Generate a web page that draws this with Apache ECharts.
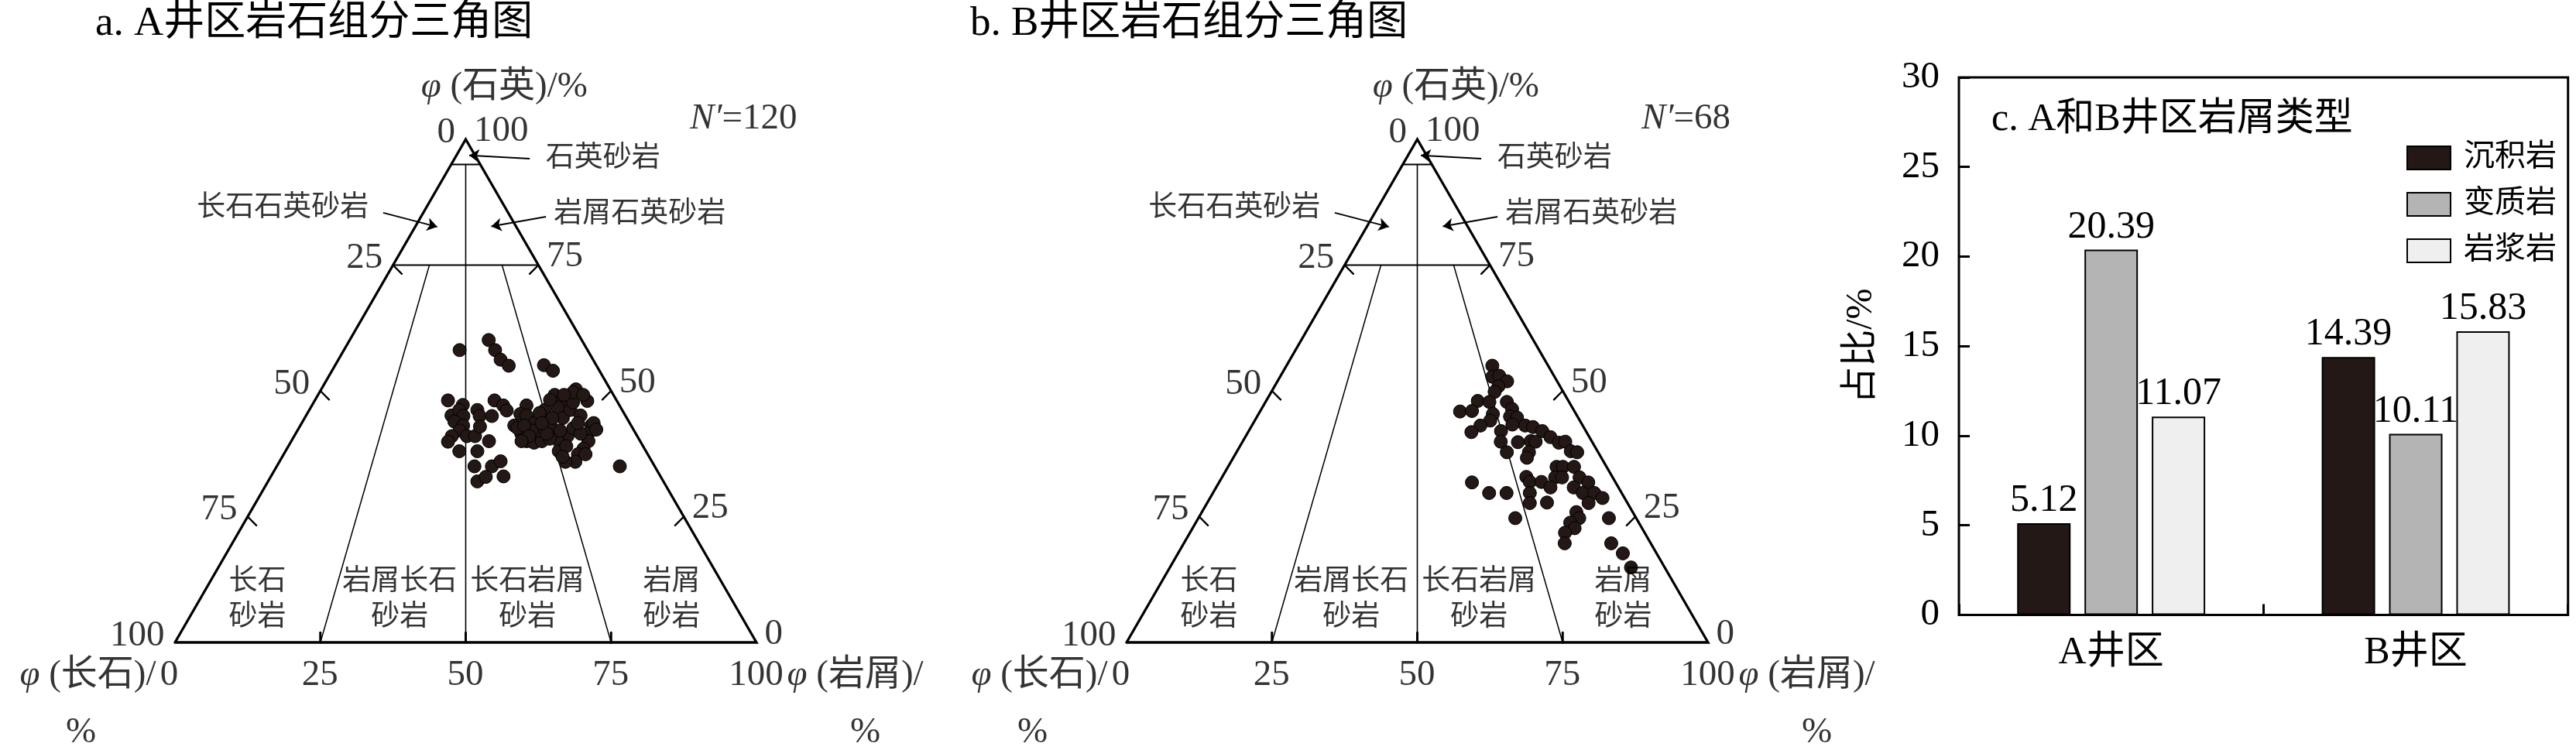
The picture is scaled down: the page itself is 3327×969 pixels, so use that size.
<!DOCTYPE html>
<html><head><meta charset="utf-8">
<script src="https://cdn.jsdelivr.net/npm/echarts@6/dist/echarts.min.js"></script>
<style>html,body{margin:0;padding:0;background:#fff}#c{width:3327px;height:969px}</style>
</head><body><div id="c"></div>
<script>
// ---------- data: well area A (percent) ----------
const quartzA   = [58.1,60.1,58.1,56.2,55.0,55.1,54.0,48.1,47.2,45.1,46.2,45.0,43.9,43.1,42.1,41.0,39.9,41.0,41.0,46.2,45.0,42.9,45.0,48.1,47.1,46.1,40.0,38.0,38.0,35.0,35.0,36.0,32.0,32.9,33.0,47.1,43.1,45.4,45.1,41.5,40.0,39.7,40.0,42.1,43.6,46.2,44.1,42.6,49.2,48.2,46.7,44.6,46.2,50.3,48.0,47.7,45.1,43.1,41.5,40.0,38.5,37.4,35.9,35.9,38.0,41.0,40.5,40.5,42.1,48.2,42.6,41.5,39.0,45.6,44.6,42.6,43.1,49.7,43.6,37.4,36.9,43.6,42.1,41.5,43.6,41.0,40.0,49.2,49.2,42.3,35.0];
const feldsparA = [22.0,16.0,15.9,15.9,15.1,9.0,8.0,29.0,26.9,29.9,28.0,27.9,30.0,28.9,30.0,31.9,33.1,29.3,27.9,24.9,25.1,26.1,23.0,21.0,20.0,19.9,26.0,32.1,29.0,31.0,28.0,26.0,32.0,30.1,27.0,16.0,20.1,17.9,17.0,19.7,19.5,18.4,16.9,16.3,16.4,13.3,13.9,13.8,10.1,9.2,10.8,11.0,8.9,5.9,5.1,7.7,7.7,6.9,8.2,8.9,10.5,12.0,13.2,14.9,15.0,12.0,14.0,15.3,17.6,11.4,10.2,9.5,13.2,14.5,12.8,19.8,18.4,6.7,6.2,10.7,14.9,8.9,12.7,15.3,15.1,18.6,20.4,8.5,5.2,6.4,6.0];
const lithicA   = [19.9,23.9,26.0,27.9,29.9,35.9,38.0,22.9,25.9,25.0,25.8,27.1,26.1,28.0,27.9,27.1,27.0,29.7,31.1,28.9,29.9,31.0,32.0,30.9,32.9,34.0,34.0,29.9,33.0,34.0,37.0,38.0,36.0,37.0,40.0,36.9,36.8,36.7,37.9,38.8,40.5,41.9,43.1,41.6,40.0,40.5,42.0,43.6,40.7,42.6,42.5,44.4,44.9,43.8,46.9,44.6,47.2,50.0,50.3,51.1,51.0,50.6,50.9,49.2,47.0,47.0,45.5,44.2,40.3,40.4,47.2,49.0,47.8,39.9,42.6,37.6,38.5,43.6,50.2,51.9,48.2,47.5,45.2,43.2,41.3,40.4,39.6,42.3,45.6,51.3,59.0];
// ---------- data: well area B (percent) ----------
const quartzB   = [55.0,52.8,53.0,51.9,50.9,49.8,48.0,47.8,45.9,46.0,45.4,44.1,43.1,41.8,47.8,46.4,44.9,44.7,43.3,43.1,42.8,42.0,40.8,39.7,39.9,38.0,37.8,42.0,39.9,37.8,39.8,40.0,39.9,37.8,36.7,34.9,34.9,34.9,32.8,32.8,32.8,31.8,32.9,31.9,31.9,30.8,30.8,29.7,29.7,28.7,27.7,29.7,27.7,27.8,31.8,29.7,29.7,24.7,25.9,24.7,23.8,22.7,21.8,19.7,24.7,19.7,17.7,14.9];
const feldsparB = [9.6,10.7,9.4,8.6,10.6,11.8,15.6,13.7,19.7,17.6,14.3,15.4,17.6,19.8,10.7,10.5,11.6,10.5,12.0,9.9,8.7,7.5,6.7,5.8,4.6,4.6,3.6,14.6,15.7,15.7,12.8,10.5,9.7,11.9,12.8,8.6,7.5,5.6,9.9,8.7,5.7,4.7,14.8,14.7,12.7,11.7,7.7,6.7,4.7,3.8,6.7,15.8,16.8,13.8,24.7,22.8,19.8,20.8,9.7,9.8,11.8,11.6,13.7,14.8,4.7,6.8,5.8,5.8];
const lithicB   = [35.4,36.5,37.6,39.5,38.5,38.4,36.4,38.5,34.4,36.4,40.3,40.5,39.3,38.4,41.5,43.1,43.5,44.8,44.7,47.0,48.5,50.5,52.5,54.5,55.5,57.4,58.6,43.4,44.4,46.5,47.4,49.5,50.4,50.3,50.5,56.5,57.6,59.5,57.3,58.5,61.5,63.5,52.3,53.4,55.4,57.5,61.5,63.6,65.6,67.5,65.6,54.5,55.5,58.4,43.5,47.5,50.5,54.5,64.4,65.5,64.4,65.7,64.5,65.5,70.6,73.5,76.5,79.3];
const sampleCounts = [120, 68];
// ---------- ternary classification ----------
const ternaryTicks   = [0, 25, 50, 75, 100];
const sideTickValues = [25, 50, 75];
const quartzBounds   = [95, 75];          // quartz sandstone / quartz-rich boundaries
const lithicRatios   = [25, 50, 75];      // L/(F+L) boundaries
const regionNames    = ['长石\n砂岩', '岩屑长石\n砂岩', '长石岩屑\n砂岩', '岩屑\n砂岩'];
const subQuartzNames = ['石英砂岩', '长石石英砂岩', '岩屑石英砂岩'];
// ---------- bar chart data ----------
const areaCategories = ['A井区', 'B井区'];
const debrisTypes    = ['沉积岩', '变质岩', '岩浆岩'];
const sedimentary    = [5.12, 14.39];
const metamorphic    = [20.39, 10.11];
const igneous        = [11.07, 15.83];
const barYTicks      = [0, 5, 10, 15, 20, 25, 30];

// ---------- layout / style (not data) ----------
const FF = "'Liberation Serif','Noto Sans CJK SC',serif";
const panelTitles = ['a. A井区岩石组分三角图', 'b. B井区岩石组分三角图', 'c. A和B井区岩屑类型'];
const ternGrids = [{left:226, top:180, width:751, height:650}, {left:1455, top:180, width:751, height:650}];
// positions in ternary plot space [base position %, quartz %]
const LAYOUT = {
  quartzName: [56.7, 110.3], nLabel: [88.6, 104],
  sub: [[63.8, 96.0, 'left'], [33.4, 86.15, 'right'], [65.2, 84.9, 'left']],
  arrows: [[[61.0, 96.15], [50.6, 96.8]], [[35.8, 85.4], [45.1, 82.6]], [[63.8, 84.6], [54.4, 82.7]]],
  regions: [14.25, 38.7, 60.7, 85.5], regionQ: 8.3,
  pctLeft: [-16.1, -18], pctRight: [118.8, -18]
};

function tern(q, f, l) { const s = q + f + l; return [100 * (l + q / 2) / s, 100 * q / s]; }

function lab(pos, text, o) {
  return { value: pos, label: Object.assign({ show: true, position: [0, 0], formatter: text, color: '#000',
    fontFamily: FF, fontSize: 47, align: 'center', verticalAlign: 'middle',
    rich: { i: { fontStyle: 'italic', fontFamily: FF, fontSize: 47, color: '#000' } } }, o || {}) };
}

function ternarySeries(k, Q, F, L, n) {
  const S = [];
  const ax = { xAxisIndex: k, yAxisIndex: k };
  const seg = (pts, w, z) => S.push(Object.assign({ type: 'line', data: pts, symbol: 'none', clip: false, silent: true,
    lineStyle: { color: '#000', width: w, cap: 'round', join: 'miter' }, z: z || 2 }, ax));
  seg([tern(0, 100, 0), tern(0, 0, 100), tern(100, 0, 0), tern(0, 100, 0)], 3.3, 3);
  quartzBounds.forEach(q => seg([tern(q, 100 - q, 0), tern(q, 0, 100 - q)], 2));
  lithicRatios.forEach(r => {
    const qt = r === 50 ? quartzBounds[0] : quartzBounds[1];
    seg([tern(qt, (100 - qt) * (100 - r) / 100, (100 - qt) * r / 100), tern(0, 100 - r, r)], r === 50 ? 1.6 : 1.5);
  });
  sideTickValues.forEach(t => {
    const a = tern(100 - t, t, 0); seg([a, [a[0] + 1.5, a[1] - 1.74]], 2.4);
    const b = tern(t, 0, 100 - t); seg([b, [b[0] - 1.5, b[1] - 1.74]], 2.4);
    const c = tern(0, 100 - t, t); seg([c, [c[0], c[1] + 1.95]], 3);
  });
  S.push(Object.assign({ type: 'scatter', symbol: 'circle', symbolSize: 17, clip: false, z: 5,
    itemStyle: { color: '#231815', borderColor: '#000', borderWidth: 1, opacity: 1 },
    data: Q.map((q, i) => tern(q, F[i], L[i])) }, ax));
  S.push(Object.assign({ type: 'lines', coordinateSystem: 'cartesian2d', polyline: false, clip: false, silent: true, z: 4,
    symbol: ['none', 'arrow'], symbolSize: 13, lineStyle: { color: '#000', width: 2, opacity: 1 },
    data: LAYOUT.arrows.map(c => ({ coords: c })) }, ax));
  const T = [];
  ternaryTicks.forEach(t => {
    T.push(lab(tern(100 - t, t, 0), String(t), { align: 'right', offset: [-13, -8] }));
    T.push(lab(tern(t, 0, 100 - t), String(t), { align: 'left', offset: [11, -10] }));
    T.push(lab(tern(0, 100 - t, t), String(t), { align: 'center', offset: [t === 0 ? -7 : 0, 43] }));
  });
  T.push(lab(tern(0, 100, 0), '{i|φ} (长石)/', { align: 'right', offset: [-24, 43] }));
  T.push(lab(tern(0, 0, 100), '{i|φ} (岩屑)/', { align: 'left', offset: [40, 43] }));
  T.push(lab(LAYOUT.pctLeft, '%'));
  T.push(lab(LAYOUT.pctRight, '%'));
  T.push(lab(LAYOUT.quartzName, '{i|φ} (石英)/%'));
  T.push(lab(LAYOUT.nLabel, "{i|N′}=" + n, { align: 'left' }));
  subQuartzNames.forEach((s, i) => T.push(lab([LAYOUT.sub[i][0], LAYOUT.sub[i][1]], s, { align: LAYOUT.sub[i][2], fontSize: 37 })));
  regionNames.forEach((s, i) => T.push(lab([LAYOUT.regions[i], LAYOUT.regionQ], s, { fontSize: 37, lineHeight: 46 })));
  S.push(Object.assign({ type: 'scatter', symbol: 'circle', symbolSize: 1, clip: false, silent: true, z: 6,
    itemStyle: { color: 'rgba(0,0,0,0)' }, data: T }, ax));
  return S;
}

const chart = echarts.init(document.getElementById('c'), null, { renderer: 'canvas' });
const barColors = ['#231815', '#b4b4b4', '#eeefee'];
const barVals = [sedimentary, metamorphic, igneous];
const titleStyle = fs => ({ fontFamily: FF, fontSize: fs, fontWeight: 'normal', color: '#000' });

const option = {
  animation: false,
  backgroundColor: '#fff',
  title: [
    { text: panelTitles[0], left: 118, top: 0, textStyle: titleStyle(53) },
    { text: panelTitles[1], left: 1248, top: 0, textStyle: titleStyle(53) },
    { text: panelTitles[2], left: 2567, top: 125, textStyle: titleStyle(50) }
  ],
  grid: [
    Object.assign({ containLabel: false, outerBoundsMode: 'none' }, ternGrids[0]),
    Object.assign({ containLabel: false, outerBoundsMode: 'none' }, ternGrids[1]),
    { left: 2530, top: 100, width: 786.7, height: 694.4, containLabel: false, outerBoundsMode: 'none',
      show: true, borderColor: '#000', borderWidth: 3, backgroundColor: 'transparent' }
  ],
  xAxis: [
    { type: 'value', gridIndex: 0, min: 0, max: 100, show: false },
    { type: 'value', gridIndex: 1, min: 0, max: 100, show: false },
    { type: 'category', gridIndex: 2, data: areaCategories,
      axisLine: { show: false }, splitLine: { show: false },
      axisTick: { show: true, inside: true, length: 14, alignWithLabel: false, lineStyle: { color: '#000', width: 3 } },
      axisLabel: { fontFamily: FF, fontSize: 50, color: '#000', margin: 24 } }
  ],
  yAxis: [
    { type: 'value', gridIndex: 0, min: 0, max: 100, show: false },
    { type: 'value', gridIndex: 1, min: 0, max: 100, show: false },
    { type: 'value', gridIndex: 2, min: barYTicks[0], max: barYTicks[barYTicks.length - 1], interval: barYTicks[1] - barYTicks[0],
      axisLine: { show: false }, splitLine: { show: false },
      axisTick: { show: true, inside: true, length: 14, lineStyle: { color: '#000', width: 3 } },
      axisLabel: { fontFamily: FF, fontSize: 49, color: '#000', margin: 25 },
      name: '占比/%', nameLocation: 'middle', nameGap: 102, nameRotate: 90,
      nameTextStyle: { fontFamily: FF, fontSize: 48, color: '#000' } }
  ],
  legend: {
    data: debrisTypes, orient: 'vertical', left: 3103, top: 179, itemWidth: 56, itemHeight: 30, itemGap: 20,
    icon: 'rect', textStyle: { fontFamily: FF, fontSize: 40, color: '#000', padding: [0, 0, 0, 12] }
  },
  series: [
    ...ternarySeries(0, quartzA, feldsparA, lithicA, sampleCounts[0]),
    ...ternarySeries(1, quartzB, feldsparB, lithicB, sampleCounts[1]),
    ...debrisTypes.map((name, i) => ({
      type: 'bar', name, xAxisIndex: 2, yAxisIndex: 2, data: barVals[i], barWidth: 69, barGap: '26%',
      itemStyle: { color: barColors[i], borderColor: '#000', borderWidth: 2 },
      label: { show: true, position: 'top', distance: 4, fontFamily: FF, fontSize: 50, color: '#000',
        formatter: p => Number(p.value).toFixed(2) }
    }))
  ]
};
chart.setOption(option);
</script>
</body></html>
